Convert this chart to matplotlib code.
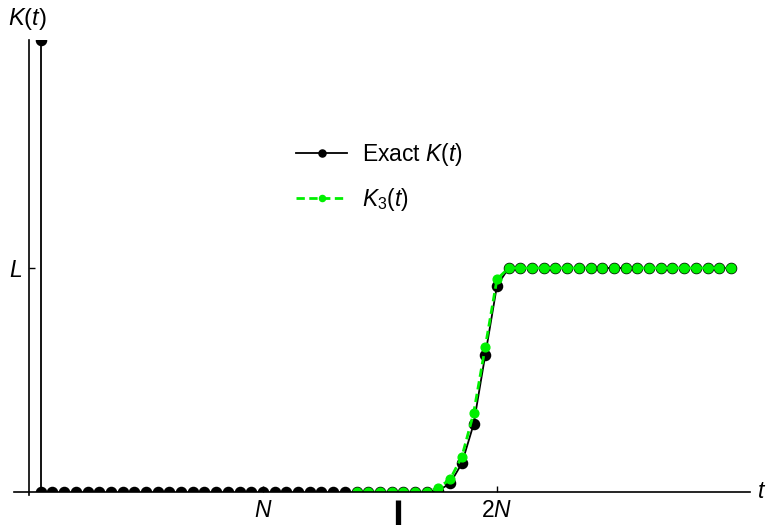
import matplotlib
matplotlib.use("Agg")
import matplotlib.pyplot as plt
import numpy as np

plt.rcParams['font.family'] = ['Liberation Sans', 'DejaVu Sans']
plt.rcParams['mathtext.fontset'] = 'custom'
plt.rcParams['mathtext.rm'] = 'Liberation Sans'
plt.rcParams['mathtext.it'] = 'Liberation Sans:italic'

# DATEN (L = 1, N = 20)
L = 1.0
N = 20

# exakter Verlauf K(t), t = 1..60
exact_t = np.arange(1, 61)
exact_K = [0.0] * 34 + [0.006, 0.039, 0.128, 0.302, 0.612, 0.921] + [1.0] * 20

# Spitze bei t = 1 (oben abgeschnitten)
spike_t = 1
spike_K = 2.02

# Naeherung K_3(t), t = 28..60
k3_t = np.arange(28, 61)
k3_K = [0.0] * 7 + [0.019, 0.057, 0.158, 0.351, 0.648, 0.95] + [1.0] * 20

x_ticks = [N, 2 * N]
x_tick_labels = [r'$N$', r'$2N$']
y_ticks = [L]
y_tick_labels = [r'$L$']

cursor_t = 31.5

green = '#00f000'
FS = 16.5

fig = plt.figure(figsize=(7.67, 5.25), dpi=100)
ax = fig.add_axes([0.018, 0.0654, 0.9594, 0.8584])

ax.plot(exact_t, exact_K, color='black', lw=1.3, marker='o', ms=7.3,
        label=r'Exact $K(t)$', zorder=3)
ax.vlines(spike_t, 0, spike_K, color='black', lw=1.3, zorder=3)
ax.plot([spike_t], [spike_K], 'o', color='black', ms=7.3, zorder=3)
ax.plot(k3_t, k3_K, color=green, lw=2, ls=(0, (3, 1.6)), marker='o', ms=6.3,
        label=r'$K_3(t)$', zorder=4)

ax.set_xlim(-1.3, 61.6)
ax.set_ylim(0.006, 2.018)

for s in ['top', 'right']:
    ax.spines[s].set_visible(False)
ax.spines['left'].set_position(('data', 0))
ax.spines['bottom'].set_position(('data', 0))
ax.spines['left'].set_bounds(-0.013, 2.018)
ax.spines['left'].set_linewidth(1.2)
ax.spines['bottom'].set_linewidth(1.2)
ax.spines['bottom'].set_zorder(5)

ax.set_xticks(x_ticks)
ax.set_xticklabels(x_tick_labels, fontsize=FS)
ax.set_yticks(y_ticks)
ax.set_yticklabels(y_tick_labels, fontsize=FS)
ax.tick_params(axis='x', direction='in', length=4, width=1, pad=5)
ax.tick_params(axis='y', direction='in', length=4, width=1, pad=5)

# kleiner Balken unter der Achse
ax.plot([cursor_t, cursor_t], [-0.036, -0.15], color='black', lw=3.8,
        solid_capstyle='butt', clip_on=False)

fig.text(27.5 / 767, 1 - 19.5 / 525, r'$K(t)$', fontsize=FS + 0.5, ha='center', va='center')
fig.text(757 / 767, 33 / 525, r'$t$', fontsize=FS, ha='left', va='center')

ax.legend(loc='upper left', bbox_to_anchor=(285 / 767, 1 - 130 / 525),
          bbox_transform=fig.transFigure, frameon=False, fontsize=FS,
          handlelength=2.2, handletextpad=0.65, labelspacing=0.75,
          borderpad=0, markerscale=0.7)

plt.savefig('out.png', dpi=100)
